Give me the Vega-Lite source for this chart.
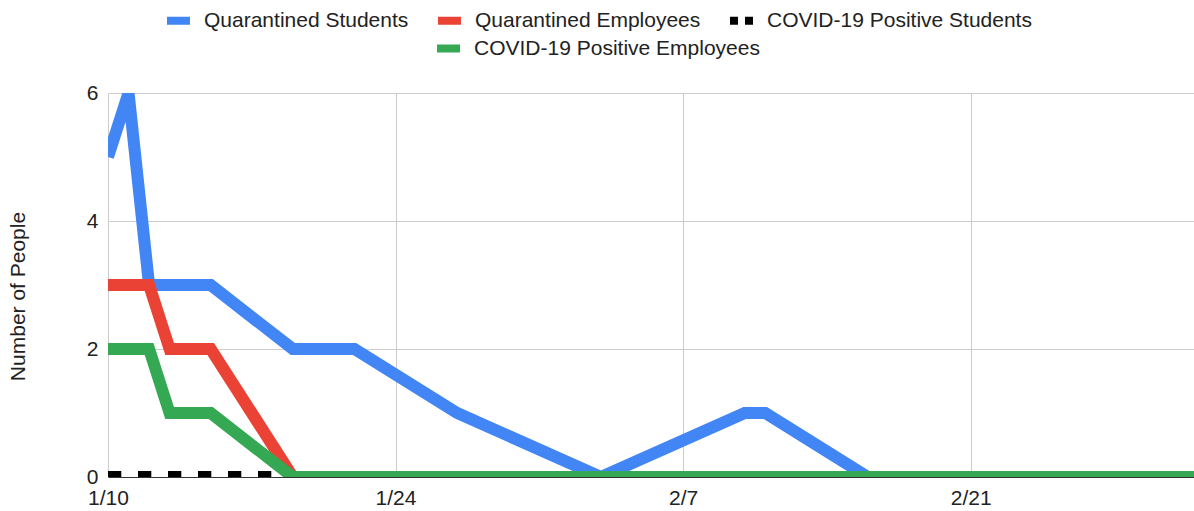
{
  "$schema": "https://vega.github.io/schema/vega-lite/v6.json",
  "width": 1086,
  "height": 384,
  "autosize": {"type": "none"},
  "padding": {"left": 108, "top": 93, "right": 0, "bottom": 34},
  "background": "white",
  "config": {
    "font": "Liberation Sans",
    "view": {"stroke": null},
    "axis": {
      "labelFont": "Liberation Sans",
      "labelFontSize": 21,
      "labelColor": "#222222",
      "gridColor": "#cccccc",
      "gridWidth": 1,
      "ticks": false,
      "titleFont": "Liberation Sans",
      "titleFontSize": 21,
      "titleFontWeight": "normal",
      "titleColor": "#222222"
    },
    "legend": {
      "labelFont": "Liberation Sans",
      "labelFontSize": 21,
      "labelColor": "#222222",
      "labelLimit": 500,
      "symbolType": "stroke",
      "symbolSize": 529,
      "symbolStrokeWidth": 8,
      "labelOffset": 10,
      "columnPadding": 13,
      "padding": 0
    }
  },
  "data": {
    "values": [
      {"date": "2022-01-10T00:00:00", "series": "Quarantined Students", "value": 5},
      {"date": "2022-01-11T00:00:00", "series": "Quarantined Students", "value": 6},
      {"date": "2022-01-12T00:00:00", "series": "Quarantined Students", "value": 3},
      {"date": "2022-01-13T00:00:00", "series": "Quarantined Students", "value": 3},
      {"date": "2022-01-15T00:00:00", "series": "Quarantined Students", "value": 3},
      {"date": "2022-01-19T00:00:00", "series": "Quarantined Students", "value": 2},
      {"date": "2022-01-22T00:00:00", "series": "Quarantined Students", "value": 2},
      {"date": "2022-01-27T00:00:00", "series": "Quarantined Students", "value": 1},
      {"date": "2022-02-03T00:00:00", "series": "Quarantined Students", "value": 0},
      {"date": "2022-02-10T00:00:00", "series": "Quarantined Students", "value": 1},
      {"date": "2022-02-11T00:00:00", "series": "Quarantined Students", "value": 1},
      {"date": "2022-02-16T00:00:00", "series": "Quarantined Students", "value": 0},
      {"date": "2022-03-04T00:00:00", "series": "Quarantined Students", "value": 0},
      {"date": "2022-01-10T00:00:00", "series": "Quarantined Employees", "value": 3},
      {"date": "2022-01-11T00:00:00", "series": "Quarantined Employees", "value": 3},
      {"date": "2022-01-12T00:00:00", "series": "Quarantined Employees", "value": 3},
      {"date": "2022-01-13T00:00:00", "series": "Quarantined Employees", "value": 2},
      {"date": "2022-01-15T00:00:00", "series": "Quarantined Employees", "value": 2},
      {"date": "2022-01-19T00:00:00", "series": "Quarantined Employees", "value": 0},
      {"date": "2022-01-22T00:00:00", "series": "Quarantined Employees", "value": 0},
      {"date": "2022-01-27T00:00:00", "series": "Quarantined Employees", "value": 0},
      {"date": "2022-02-03T00:00:00", "series": "Quarantined Employees", "value": 0},
      {"date": "2022-02-10T00:00:00", "series": "Quarantined Employees", "value": 0},
      {"date": "2022-02-11T00:00:00", "series": "Quarantined Employees", "value": 0},
      {"date": "2022-02-16T00:00:00", "series": "Quarantined Employees", "value": 0},
      {"date": "2022-03-04T00:00:00", "series": "Quarantined Employees", "value": 0},
      {"date": "2022-01-10T00:00:00", "series": "COVID-19 Positive Students", "value": 0},
      {"date": "2022-01-11T00:00:00", "series": "COVID-19 Positive Students", "value": 0},
      {"date": "2022-01-12T00:00:00", "series": "COVID-19 Positive Students", "value": 0},
      {"date": "2022-01-13T00:00:00", "series": "COVID-19 Positive Students", "value": 0},
      {"date": "2022-01-15T00:00:00", "series": "COVID-19 Positive Students", "value": 0},
      {"date": "2022-01-19T00:00:00", "series": "COVID-19 Positive Students", "value": 0},
      {"date": "2022-01-22T00:00:00", "series": "COVID-19 Positive Students", "value": 0},
      {"date": "2022-01-27T00:00:00", "series": "COVID-19 Positive Students", "value": 0},
      {"date": "2022-02-03T00:00:00", "series": "COVID-19 Positive Students", "value": 0},
      {"date": "2022-02-10T00:00:00", "series": "COVID-19 Positive Students", "value": 0},
      {"date": "2022-02-11T00:00:00", "series": "COVID-19 Positive Students", "value": 0},
      {"date": "2022-02-16T00:00:00", "series": "COVID-19 Positive Students", "value": 0},
      {"date": "2022-03-04T00:00:00", "series": "COVID-19 Positive Students", "value": 0},
      {"date": "2022-01-10T00:00:00", "series": "COVID-19 Positive Employees", "value": 2},
      {"date": "2022-01-11T00:00:00", "series": "COVID-19 Positive Employees", "value": 2},
      {"date": "2022-01-12T00:00:00", "series": "COVID-19 Positive Employees", "value": 2},
      {"date": "2022-01-13T00:00:00", "series": "COVID-19 Positive Employees", "value": 1},
      {"date": "2022-01-15T00:00:00", "series": "COVID-19 Positive Employees", "value": 1},
      {"date": "2022-01-19T00:00:00", "series": "COVID-19 Positive Employees", "value": 0},
      {"date": "2022-01-22T00:00:00", "series": "COVID-19 Positive Employees", "value": 0},
      {"date": "2022-01-27T00:00:00", "series": "COVID-19 Positive Employees", "value": 0},
      {"date": "2022-02-03T00:00:00", "series": "COVID-19 Positive Employees", "value": 0},
      {"date": "2022-02-10T00:00:00", "series": "COVID-19 Positive Employees", "value": 0},
      {"date": "2022-02-11T00:00:00", "series": "COVID-19 Positive Employees", "value": 0},
      {"date": "2022-02-16T00:00:00", "series": "COVID-19 Positive Employees", "value": 0},
      {"date": "2022-03-04T00:00:00", "series": "COVID-19 Positive Employees", "value": 0}
    ]
  },
  "encoding": {
    "x": {
      "field": "date",
      "type": "temporal",
      "scale": {
        "domain": [
          {"year": 2022, "month": 1, "date": 10},
          {"year": 2022, "month": 3, "date": 3, "hours": 21}
        ]
      },
      "axis": {
        "title": null,
        "values": [
          {"year": 2022, "month": 1, "date": 10},
          {"year": 2022, "month": 1, "date": 24},
          {"year": 2022, "month": 2, "date": 7},
          {"year": 2022, "month": 2, "date": 21}
        ],
        "format": "%-m/%-d",
        "labelFlush": false,
        "labelPadding": 10,
        "domainColor": "#333333",
        "domainWidth": 1,
        "grid": true
      }
    },
    "y": {
      "field": "value",
      "type": "quantitative",
      "scale": {"domain": [0, 6], "nice": false},
      "axis": {
        "title": "Number of People",
        "values": [0, 2, 4, 6],
        "domain": false,
        "grid": true,
        "labelPadding": 10,
        "titleX": -90,
        "titleY": 203,
        "titleAlign": "center",
        "titleBaseline": "middle",
        "titleAngle": 270
      }
    }
  },
  "layer": [
    {
      "encoding": {
        "color": {
          "field": "series",
          "type": "nominal",
          "scale": {
            "domain": ["Quarantined Students", "Quarantined Employees", "COVID-19 Positive Students"],
            "range": ["#4285F4", "#EA4335", "#000000"]
          },
          "legend": {
            "orient": "none",
            "legendX": 55,
            "legendY": -88,
            "direction": "horizontal",
            "title": null,
            "encode": {
              "symbols": {
                "update": {
                  "strokeDash": {"signal": "datum.value === 'COVID-19 Positive Students' ? [8, 7] : [1, 0]"}
                }
              }
            }
          }
        }
      },
      "layer": [
        {
          "transform": [{"filter": "datum.series === 'Quarantined Students'"}],
          "mark": {"type": "line", "strokeWidth": 12, "clip": true}
        },
        {
          "transform": [{"filter": "datum.series === 'Quarantined Employees'"}],
          "mark": {"type": "line", "strokeWidth": 12, "clip": true}
        },
        {
          "transform": [{"filter": "datum.series === 'COVID-19 Positive Students'"}],
          "mark": {"type": "line", "strokeWidth": 12, "strokeDash": [13.3, 16.7], "clip": true}
        }
      ]
    },
    {
      "transform": [{"filter": "datum.series === 'COVID-19 Positive Employees'"}],
      "mark": {"type": "line", "strokeWidth": 12, "clip": true},
      "encoding": {
        "color": {
          "field": "series",
          "type": "nominal",
          "scale": {
            "domain": ["COVID-19 Positive Employees"],
            "range": ["#34A853"]
          },
          "legend": {
            "orient": "none",
            "legendX": 325,
            "legendY": -60,
            "direction": "horizontal",
            "title": null
          }
        }
      }
    }
  ],
  "resolve": {"scale": {"color": "independent"}}
}
